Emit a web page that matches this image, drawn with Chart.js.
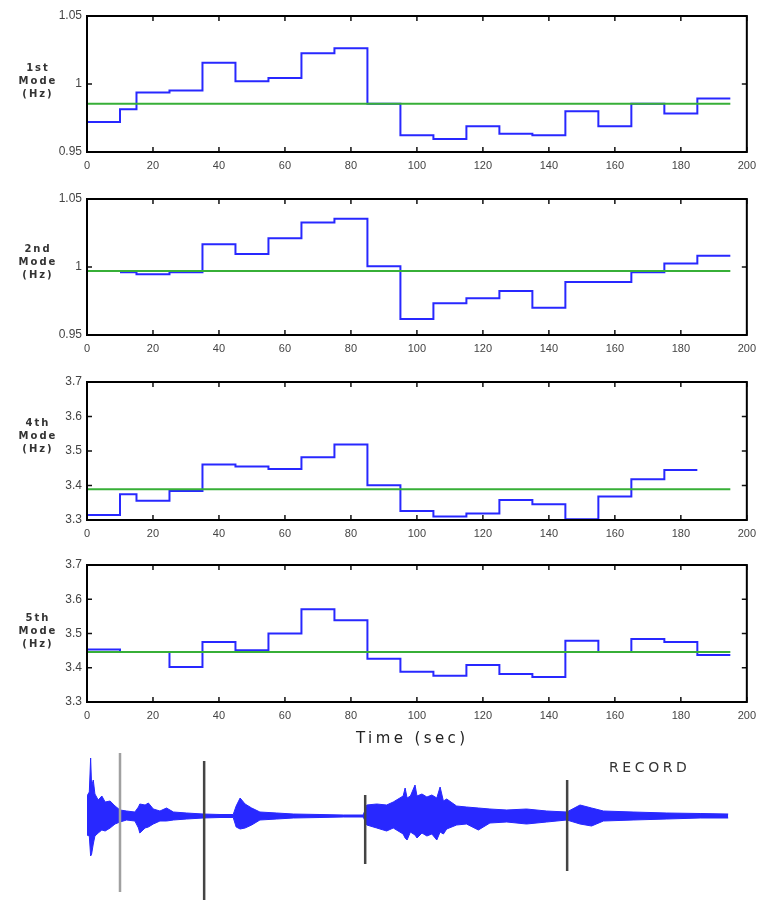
<!DOCTYPE html>
<html>
<head>
<meta charset="utf-8">
<script src="https://cdn.jsdelivr.net/npm/chart.js@4.4.1/dist/chart.umd.min.js"></script>
<style>
  body { margin: 0; background: #fff; width: 761px; height: 900px; position: relative; overflow: hidden; font-family: "DejaVu Sans", sans-serif; }
  canvas { position: absolute; left: 0; }
  .lab { position: absolute; left: 0; width: 76px; text-align: center; font-size: 10px; font-weight: bold; line-height: 13px; color: #333; letter-spacing: 2px; }
  #time { position: absolute; left: 356px; top: 729px; font-size: 15px; letter-spacing: 3.4px; color: #222; }
  #rec { position: absolute; left: 609px; top: 759px; font-size: 14px; letter-spacing: 3.6px; color: #333; }
</style>
</head>
<body>
<canvas id="c1" width="763" height="175" style="top:0px"></canvas>
<canvas id="c2" width="763" height="175" style="top:183px"></canvas>
<canvas id="c3" width="763" height="177" style="top:366px"></canvas>
<canvas id="c4" width="763" height="176" style="top:549px"></canvas>
<canvas id="c5" width="761" height="155" style="top:745px"></canvas>

<div class="lab" style="top:61px">1st<br>Mode<br>(Hz)</div>
<div class="lab" style="top:242px">2nd<br>Mode<br>(Hz)</div>
<div class="lab" style="top:416px">4th<br>Mode<br>(Hz)</div>
<div class="lab" style="top:611px">5th<br>Mode<br>(Hz)</div>
<div id="time">Time (sec)</div>
<div id="rec">RECORD</div>

<script>
// bordes de los intervalos (s) y valores de cada modo
const edges = [0, 10, 15, 25, 35, 45, 55, 65, 75, 85, 95, 105, 115, 125, 135, 145, 155, 165, 175, 185, 195];
const xTicks = [0, 20, 40, 60, 80, 100, 120, 140, 160, 180, 200];

const mode1 = [0.972, 0.9815, 0.9937, 0.9952, 1.0156, 1.0021, 1.0045, 1.0227, 1.0262, 0.9855,
  0.9623, 0.9596, 0.9689, 0.9635, 0.9623, 0.98, 0.9689, 0.9855, 0.9783, 0.9893];
const mode2 = [null, 0.9961, 0.9946, 0.9961, 1.0167, 1.0096, 1.0211, 1.0328, 1.0355, 1.0005,
  0.9618, 0.9733, 0.977, 0.9824, 0.9701, 0.989, 0.989, 0.9961, 1.0025, 1.0083];
const mode4 = [3.3145, 3.3746, 3.356, 3.384, 3.461, 3.455, 3.448, 3.482, 3.519, 3.401,
  3.326, 3.31, 3.319, 3.358, 3.346, 3.302, 3.368, 3.418, 3.445, null];
const mode5 = [3.453, 3.446, 3.446, 3.402, 3.475, 3.451, 3.50, 3.571, 3.539, 3.426,
  3.388, 3.377, 3.408, 3.382, 3.373, 3.479, 3.446, 3.484, 3.475, 3.437];

const mean1 = 0.9855, mean2 = 0.9971, mean4 = 3.389, mean5 = 3.446;
const meanRange = [0, 195];

const yTicks1 = [0.95, 1, 1.05];
const yTicks2 = [0.95, 1, 1.05];
const yTicks4 = [3.3, 3.4, 3.5, 3.6, 3.7];
const yTicks5 = [3.3, 3.4, 3.5, 3.6, 3.7];

// registro sismico: envolvente
const recT = [0, 0.7, 1.1, 1.4, 1.9, 2.4, 3.4, 4.5, 5.5, 7, 8.5, 10, 12, 14.5, 15.6, 16, 17.6, 18.6, 20.1, 22.1,
  24.1, 26.2, 30.2, 35.2, 40.3, 44.3, 45.2, 46.4, 47.9, 49.9, 52.4, 57.5, 62.5, 70.6, 77.7, 83.7, 84.8, 87.8,
  90.8, 92.8, 95.8, 96.4, 97, 98, 99.4, 100, 101.5, 103, 104.5, 106, 107, 108, 109, 112, 115, 118.6, 122.1,
  127.2, 133.2, 139.3, 145.4, 149.4, 152.9, 156.5, 165.5, 175.7, 185.8, 194.3];
const recUp = [20, 24, 58, 30, 36, 22, 16, 20, 14, 15, 10, 6, 5, 4, 9, 12, 11, 13, 7, 5,
  8, 4, 3, 2, 1.5, 1.5, 10, 18, 12, 8, 4, 3, 2, 1.5, 1, 1, 11, 12,
  11, 14, 20, 28, 18, 20, 31, 20, 22, 19, 21, 18, 29, 15, 17, 10, 9, 8, 7,
  6, 7, 5, 4, 11, 8, 5, 4, 3, 2.5, 2];
const recDown = [-19, -20, -40, -38, -28, -20, -17, -14, -15, -12, -8, -6, -4, -5, -12, -17, -12, -11, -8, -5,
  -5, -4, -3, -2, -1.5, -1.5, -11, -13, -12, -9, -4, -3, -2, -1.5, -1, -1, -9, -12,
  -15, -12, -18, -22, -24, -16, -19, -22, -17, -20, -18, -24, -16, -18, -13, -9, -8, -14, -7,
  -6, -8, -6, -4, -8, -10, -5, -4, -3, -2, -2];

const markT = [10, 35.5, 84.3, 145.5];
const markTop = [63, 55, 21, 36];
const markBottom = [-76, -84, -48, -55];
const markColor = ["#a0a0a0", "#444", "#444", "#444"];

const azul = "rgb(40,40,255)";
const verde = "rgb(55,175,55)";

function stepPoints(vals) {
  const pts = [];
  vals.forEach((v, i) => {
    if (v === null) { pts.push({x: edges[i], y: null}); return; }
    pts.push({x: edges[i], y: v}, {x: edges[i + 1], y: v});
  });
  return pts;
}

// marco y marcas hacia adentro, estilo matlab
const marco = {
  id: "marco",
  afterDatasetsDraw(chart) {
    const ctx = chart.ctx;
    const a = chart.chartArea;
    const x = chart.scales.x, y = chart.scales.y;
    ctx.save();
    ctx.strokeStyle = "#111";
    ctx.lineWidth = 1.5;
    ctx.beginPath();
    x.ticks.forEach(t => {
      const px = x.getPixelForValue(t.value);
      ctx.moveTo(px, a.top); ctx.lineTo(px, a.top + 5);
      ctx.moveTo(px, a.bottom); ctx.lineTo(px, a.bottom - 5);
    });
    y.ticks.forEach(t => {
      const py = y.getPixelForValue(t.value);
      ctx.moveTo(a.left, py); ctx.lineTo(a.left + 5, py);
      ctx.moveTo(a.right, py); ctx.lineTo(a.right - 5, py);
    });
    ctx.stroke();
    ctx.lineWidth = 2;
    ctx.strokeStyle = "#000";
    ctx.strokeRect(a.left, a.top, a.right - a.left, a.bottom - a.top);
    ctx.restore();
  }
};

function panel(id, vals, mean, yTicks) {
  new Chart(document.getElementById(id), {
    type: "line",
    data: {
      datasets: [
        {data: [{x: meanRange[0], y: mean}, {x: meanRange[1], y: mean}], borderColor: verde, borderWidth: 2, pointRadius: 0},
        {data: stepPoints(vals), borderColor: azul, borderWidth: 2, pointRadius: 0, spanGaps: false}
      ]
    },
    options: {
      responsive: false,
      animation: false,
      events: [],
      layout: {padding: {left: 0, right: 16, top: 16, bottom: 0}},
      plugins: {legend: {display: false}, tooltip: {enabled: false}},
      scales: {
        x: {
          type: "linear", min: 0, max: 200,
          grid: {display: false, drawTicks: false}, border: {display: false},
          afterBuildTicks: s => { s.ticks = xTicks.map(v => ({value: v})); },
          afterFit: s => { s.height = 23; },
          ticks: {padding: 7, maxRotation: 0, color: "#444", font: {family: "Liberation Sans", size: 11}, callback: v => String(v)}
        },
        y: {
          min: yTicks[0], max: yTicks[yTicks.length - 1],
          grid: {display: false, drawTicks: false}, border: {display: false},
          afterBuildTicks: s => { s.ticks = yTicks.map(v => ({value: v})); },
          afterFit: s => { s.width = 87; },
          ticks: {padding: 5, color: "#444", font: {family: "Liberation Sans", size: 12}, callback: v => String(v)}
        }
      }
    },
    plugins: [marco]
  });
}

panel("c1", mode1, mean1, yTicks1);
panel("c2", mode2, mean2, yTicks2);
panel("c3", mode4, mean4, yTicks4);
panel("c4", mode5, mean5, yTicks5);

// registro
const recSets = [
  {data: recT.map((t, i) => ({x: t, y: recUp[i]})), borderColor: azul, backgroundColor: azul, borderWidth: 1, pointRadius: 0, fill: "+1"},
  {data: recT.map((t, i) => ({x: t, y: recDown[i]})), borderColor: azul, borderWidth: 1, pointRadius: 0, fill: false}
];
markT.forEach((t, i) => {
  recSets.unshift({data: [{x: t, y: markTop[i]}, {x: t, y: markBottom[i]}], borderColor: markColor[i], borderWidth: 2.5, pointRadius: 0, fill: false});
});

new Chart(document.getElementById("c5"), {
  type: "line",
  data: {datasets: recSets},
  options: {
    responsive: false,
    animation: false,
    events: [],
    layout: {padding: {left: 87, right: 14, top: 0, bottom: 0}},
    plugins: {legend: {display: false}, tooltip: {enabled: false}},
    scales: {
      x: {type: "linear", min: 0, max: 200, display: false},
      y: {min: -84, max: 71, display: false}
    }
  }
});
</script>
</body>
</html>
